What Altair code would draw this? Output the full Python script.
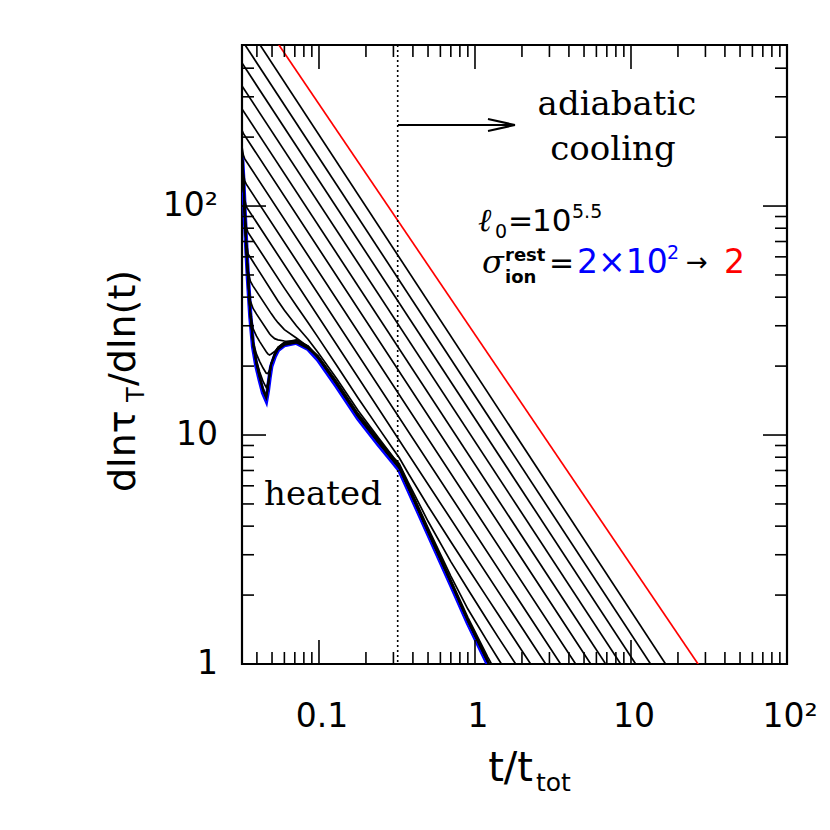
import altair as alt
import pandas as pd

W, HT = 545, 619
T_DOMAIN = [0.0321, 100]
Y_DOMAIN = [1, 505]

# ---- heated (blue) track ----
t_blue = [0.0321, 0.0328, 0.0334, 0.0342, 0.0351, 0.0363, 0.0378, 0.0397, 0.0417, 0.0438,
          0.0459, 0.0470, 0.0482, 0.0494, 0.0520, 0.0546, 0.0600, 0.0716, 0.0850, 0.0986,
          0.130, 0.178, 0.240, 0.300, 0.327, 0.374, 0.50, 0.70, 0.90, 1.206, 1.40]
y_blue = [165, 125, 93, 66, 47.5, 33, 24.3, 20.0, 17.4, 15.3,
          14.2, 15.6, 17.8, 19.9, 22.0, 23.5, 24.7, 25.3, 23.8, 21.3,
          16.3, 11.8, 9.1, 7.55, 7.03, 5.75, 3.70, 2.22, 1.51, 1.0, 0.8]

# ---- red line ----
t_red = [0.0321, 40.0]
y_red = [874.3, 0.671]

# ---- black curves: vertices ----
TL = [0.0321, 0.0328, 0.0334, 0.0342, 0.0351, 0.0363, 0.0378, 0.0397, 0.0417, 0.0438,
      0.0459, 0.0470, 0.0482, 0.0494, 0.0520, 0.0546, 0.0600, 0.0716, 0.0850, 0.0986,
      0.130, 0.178, 0.240, 0.300, 0.327, 0.374, 0.50, 0.70, 0.90, 1.206, 1.40, 2.0, 3.0]

black_t = [
    [0.0321, 30],
    [0.0321, 30],
    [0.0321, 30],
    [0.0321, 30],
    [0.0321, 30],
    [0.0321, 0.0328, 30],
    [0.0321, 0.0328, 0.0334, 0.0342, 30],
    [0.0321, 0.0328, 0.0334, 0.0342, 30],
    [0.0321, 0.0328, 0.0334, 0.0342, 30],
    [0.0321, 0.0328, 0.0334, 0.0342, 0.0351, 0.0600, 0.0716, 0.0850, 0.0986, 0.130, 0.178,
     0.240, 0.300, 0.327, 0.374, 0.50, 0.70, 0.90, 1.206, 1.40, 2.0, 3.0],
    [0.0321, 0.0328, 0.0334, 0.0342, 0.0351, 0.0546, 0.0600, 0.0716, 0.0850, 0.0986, 0.130,
     0.178, 0.240, 0.300, 0.327, 0.374, 0.50, 0.70, 0.90, 1.206, 1.40, 2.0, 3.0],
    [0.0321, 0.0328, 0.0334, 0.0342, 0.0351, 0.0363, 0.0378, 0.0494, 0.0520, 0.0546, 0.0600,
     0.0716, 0.0850, 0.0986, 0.130, 0.178, 0.240, 0.300, 0.327, 0.374, 0.50, 0.70, 0.90,
     1.206, 1.40, 2.0, 3.0],
    [0.0321, 0.0328, 0.0334, 0.0342, 0.0351, 0.0363, 0.0378, 0.0397, 0.0482, 0.0494, 0.0520,
     0.0546, 0.0600, 0.0716, 0.0850, 0.0986, 0.130, 0.178, 0.240, 0.300, 0.327, 0.374, 0.50,
     0.70, 0.90, 1.206, 1.40, 2.0, 3.0],
    TL, TL, TL, TL, TL, TL,
]
black_y = [
    [666.7, 0.5427],
    [529.6, 0.4311],
    [421.2, 0.3429],
    [334.6, 0.2724],
    [265.7, 0.2163],
    [214.7, 206.95, 0.1719],
    [181.4, 166.1, 161.1, 156.9, 0.1364],
    [168.4, 139.3, 128.9, 124.6, 0.1083],
    [165.6, 128.1, 106.7, 99.4, 0.0860],
    [165.1, 125.5, 96.3, 80.8, 76.7, 43.8, 36.7, 31.0, 26.7, 20.1, 14.52, 10.77, 8.65, 7.96,
     6.79, 4.90, 3.42, 2.625, 1.934, 1.656, 1.143, 0.750],
    [165, 125.1, 93.6, 70.2, 61.8, 38.5, 35.1, 30.0, 26.2, 22.95, 17.6, 12.8, 9.75, 8.0,
     7.5, 6.2, 4.2, 2.8, 2.12, 1.545, 1.317, 0.908, 0.595],
    [165, 125, 93.1, 66.8, 52.2, 47.0, 44.7, 33.9, 32.3, 30.95, 28.86, 26.54, 24.31, 22.2,
     17.1, 12.4, 9.6, 7.95, 7.4, 6.07, 3.93, 2.42, 1.738, 1.249, 1.059, 0.724, 0.473],
    [165, 125, 93, 66.1, 48.5, 38.6, 35.7, 33.8, 27.7, 27.18, 26.36, 26.05, 25.74, 25.53,
     24.2, 22.0, 16.95, 12.3, 9.5, 7.88, 7.33, 6.0, 3.87, 2.33, 1.6, 1.0745, 0.890,
     0.586, 0.378],
    [165, 125, 93, 66, 47.67, 34.4, 29.13, 27.09, 25.59, 24.26, 23.09, 22.62, 22.37, 22.58,
     23.16, 24.04, 24.89, 25.4, 24.3, 21.8, 16.85, 12.2, 9.42, 7.81, 7.27, 5.95, 3.83, 2.3,
     1.565, 1.04, 0.83, 0.51, 0.31],
    [165, 125, 93, 66, 47.5, 33.25, 25.62, 22.62, 20.93, 19.61, 18.62, 18.55, 19.22, 20.53,
     22.22, 23.59, 24.73, 25.33, 23.85, 21.94, 16.79, 12.15, 9.37, 7.78, 7.24, 5.92, 3.81,
     2.287, 1.555, 1.03, 0.824, 0.482, 0.27],
    [165, 125, 93, 66, 48.83, 33.92, 25.23, 21.17, 18.86, 17.14, 16.12, 16.83, 18.59, 20.57,
     22.66, 24.16, 25.39, 26.01, 24.47, 21.9, 16.76, 12.13, 9.35, 7.76, 7.23, 5.91, 3.80, 2.28,
     1.552, 1.028, 0.822, 0.481, 0.262],
    [165, 125, 93, 66, 48.69, 33.83, 24.95, 20.6, 18.02, 15.97, 14.88, 16.13, 18.3, 20.4,
     22.55, 24.09, 25.32, 25.93, 24.4, 21.83, 16.71, 12.1, 9.33, 7.74, 7.21, 5.89, 3.79, 2.276,
     1.548, 1.025, 0.82, 0.48, 0.261],
    [165, 125, 93, 66, 48.55, 33.73, 24.83, 20.44, 17.81, 15.69, 14.56, 15.96, 18.19, 20.34,
     22.48, 24.02, 25.24, 25.86, 24.32, 21.77, 16.66, 12.06, 9.3, 7.72, 7.18, 5.88, 3.78, 2.269,
     1.543, 1.022, 0.818, 0.478, 0.261],
    [165, 125, 93, 66, 48.45, 33.66, 24.79, 20.4, 17.75, 15.61, 14.48, 15.91, 18.16, 20.3,
     22.44, 23.97, 25.19, 25.81, 24.28, 21.73, 16.63, 12.04, 9.28, 7.70, 7.17, 5.87, 3.77,
     2.264, 1.54, 1.02, 0.816, 0.477, 0.26],
]

# ---- ticks ----
x_major = [0.1, 1, 10, 100]
x_minor = [0.04, 0.05, 0.06, 0.07, 0.08, 0.09, 0.2, 0.3, 0.4, 0.5, 0.6, 0.7, 0.8, 0.9,
           2, 3, 4, 5, 6, 7, 8, 9, 20, 30, 40, 50, 60, 70, 80, 90]
y_major = [1, 10, 100]
y_minor = [2, 3, 4, 5, 6, 7, 8, 9, 20, 30, 40, 50, 60, 70, 80, 90, 200, 300, 400]
x_tick_labels = ["0.1", "1", "10", "10²"]
y_tick_labels = ["1", "10", "10²"]
t_mark = [0.3195]

xs = alt.Scale(type="log", domain=T_DOMAIN)
ys = alt.Scale(type="log", domain=Y_DOMAIN)

rows = []
for k, (tt, yy) in enumerate(zip(black_t, black_y)):
    for i, (a, b) in enumerate(zip(tt, yy)):
        rows.append({"curve": f"c{k}", "i": i, "t": a, "y": b})
df_black = pd.DataFrame(rows)
df_blue = pd.DataFrame({"t": t_blue, "y": y_blue, "i": range(len(t_blue))})
df_red = pd.DataFrame({"t": t_red, "y": y_red, "i": range(len(t_red))})

X = alt.X("t:Q", scale=xs, axis=None)
Y = alt.Y("y:Q", scale=ys, axis=None)

blue = alt.Chart(df_blue).mark_line(color="#0000ff", strokeWidth=4.4, clip=True).encode(
    x=X, y=Y, order="i:Q")
black = alt.Chart(df_black).mark_line(color="black", strokeWidth=1.7, clip=True).encode(
    x=X, y=Y, detail="curve:N", order="i:Q")
red = alt.Chart(df_red).mark_line(color="#ff0000", strokeWidth=1.7, clip=True).encode(
    x=X, y=Y, order="i:Q")

dotted = alt.Chart(pd.DataFrame({"t": t_mark})).mark_rule(
    color="black", strokeWidth=1.6, strokeDash=[2, 3]).encode(
    x=X, y=alt.value(0), y2=alt.value(HT))


def xticks(vals, length):
    d = pd.DataFrame({"t": vals})
    b = alt.Chart(d).mark_rule(color="black", strokeWidth=1.6).encode(
        x=X, y=alt.value(HT), y2=alt.value(HT - length))
    t = alt.Chart(d).mark_rule(color="black", strokeWidth=1.6).encode(
        x=X, y=alt.value(0), y2=alt.value(length))
    return [b, t]


def yticks(vals, length):
    d = pd.DataFrame({"y": vals})
    l = alt.Chart(d).mark_rule(color="black", strokeWidth=1.6).encode(
        y=Y, x=alt.value(0), x2=alt.value(length))
    r = alt.Chart(d).mark_rule(color="black", strokeWidth=1.6).encode(
        y=Y, x=alt.value(W), x2=alt.value(W - length))
    return [l, r]


ticks = xticks(x_major, 24) + xticks(x_minor, 12) + yticks(y_major, 24) + yticks(y_minor, 12)

SANS = "DejaVu Sans"
SERIF = "DejaVu Serif"

xlab = alt.Chart(pd.DataFrame({"t": x_major, "lab": x_tick_labels})).mark_text(
    font=SANS, fontSize=33, baseline="alphabetic", align="center", dx=3).encode(
    x=X, y=alt.value(HT + 63), text="lab:N")
ylab = alt.Chart(pd.DataFrame({"y": y_major, "lab": y_tick_labels})).mark_text(
    font=SANS, fontSize=33, baseline="middle", align="right").encode(
    y=Y, x=alt.value(-24), text="lab:N")


def txt(x, y, s, size, font=SANS, color="black", align="left", baseline="alphabetic",
        angle=0, style="normal", weight="normal"):
    return alt.Chart(pd.DataFrame({"s": [s]})).mark_text(
        font=font, fontSize=size, color=color, align=align, baseline=baseline,
        angle=angle, fontStyle=style, fontWeight=weight).encode(
        x=alt.value(x), y=alt.value(y), text="s:N")


OX, OY = 242, 45  # page position of the plot origin

texts = [
    # y axis title (rotated, reading upwards)
    txt(135 - OX, 492 - OY, "dlnτ", 38, angle=270),
    txt(144 - OX, 402 - OY, "T", 24, angle=270),
    txt(135 - OX, 386 - OY, "/dln(t)", 38, angle=270),
    # x axis title
    txt(533 - OX, 781 - OY, "t/t", 40, align="right"),
    txt(536 - OX, 791 - OY, "tot", 25),
    # annotations
    txt(617 - OX, 115 - OY, "adiabatic", 34, font=SERIF, align="center"),
    txt(613 - OX, 160 - OY, "cooling", 34, font=SERIF, align="center"),
    txt(323 - OX, 505 - OY, "heated", 34, font=SERIF, align="center"),
    txt(478 - OX, 231 - OY, "ℓ", 32, font=SERIF, style="italic"),
    txt(495 - OX, 238 - OY, "0", 19),
    txt(508 - OX, 231 - OY, "=", 30),
    txt(532 - OX, 231 - OY, "10", 31),
    txt(572 - OX, 218 - OY, "5.5", 19),
    txt(482 - OX, 273 - OY, "σ", 32, font=SERIF, style="italic"),
    txt(505 - OX, 261 - OY, "rest", 18, weight="bold"),
    txt(505 - OX, 283 - OY, "ion", 18, weight="bold"),
    txt(549 - OX, 273 - OY, "=", 30),
    txt(577 - OX, 273 - OY, "2×10", 33, color="#0000ff"),
    txt(667 - OX, 259 - OY, "2", 19, color="#0000ff"),
    txt(686 - OX, 271 - OY, "→", 26),
    txt(724 - OX, 273 - OY, "2", 33, color="#ff0000"),
]

# arrow
one = pd.DataFrame({"a": [0]})
arrow_shaft = alt.Chart(one).mark_rule(color="black", strokeWidth=2).encode(
    x=alt.value(398 - OX), x2=alt.value(515 - OX), y=alt.value(125 - OY), y2=alt.value(125 - OY))
arrow_h1 = alt.Chart(one).mark_rule(color="black", strokeWidth=2).encode(
    x=alt.value(488 - OX), x2=alt.value(515 - OX), y=alt.value(119 - OY), y2=alt.value(125 - OY))
arrow_h2 = alt.Chart(one).mark_rule(color="black", strokeWidth=2).encode(
    x=alt.value(488 - OX), x2=alt.value(515 - OX), y=alt.value(131 - OY), y2=alt.value(125 - OY))

chart = alt.layer(
    blue, black, red, dotted, *ticks, xlab, ylab, *texts, arrow_shaft, arrow_h1, arrow_h2
).properties(
    width=W, height=HT,
    autosize=alt.AutoSizeParams(type="none"),
    padding={"left": OX - 8, "top": OY - 8, "right": 30, "bottom": 160},
).configure_view(stroke="black", strokeWidth=2.2)

chart.save("out.html", embed_options={"renderer": "svg", "actions": False})
